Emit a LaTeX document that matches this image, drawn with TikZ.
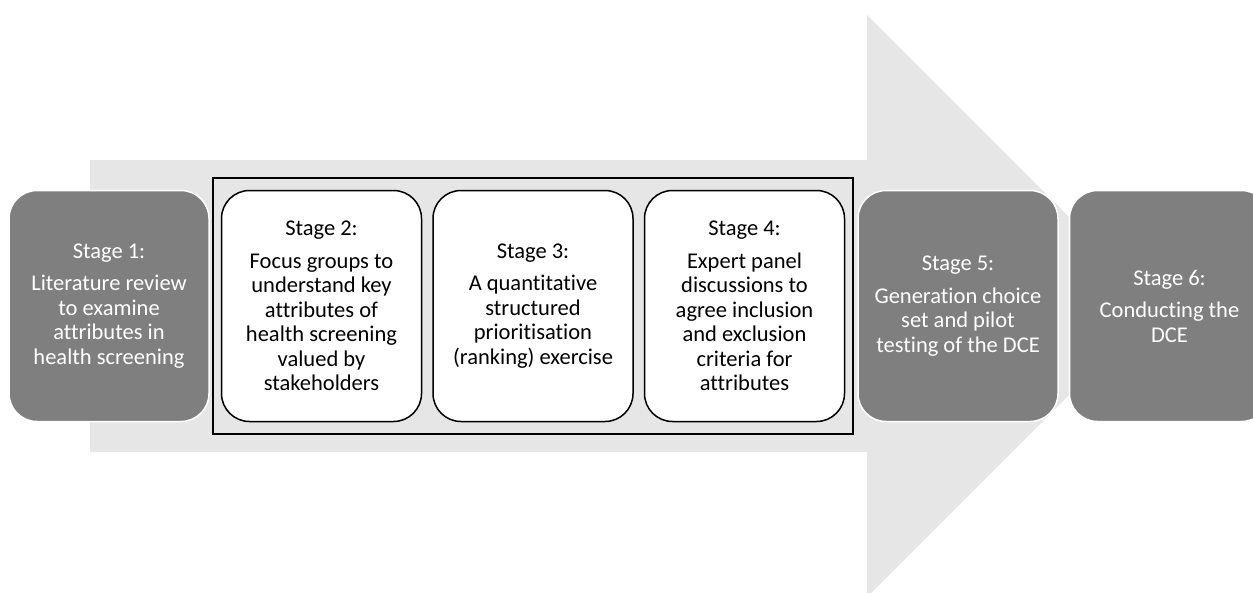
\documentclass[tikz,border=0pt]{standalone}
\usepackage{fontspec}
\setmainfont{Carlito}[Ligatures=NoCommon]
\usetikzlibrary{positioning,fit}

\definecolor{arrowgrey}{HTML}{E6E6E6}
\definecolor{stagegrey}{HTML}{7F7F7F}

\tikzset{
  stagebox/.style={rounded corners=28pt, minimum width=200pt, minimum height=231pt,
    align=center, inner sep=0pt, font=\fontsize{22.5}{24.5}\selectfont},
  darkstage/.style={stagebox, fill=stagegrey, draw=white, line width=1.5pt, text=white},
  lightstage/.style={stagebox, fill=white, draw=black, line width=1.5pt},
}

\begin{document}
\begin{tikzpicture}[x=1pt,y=-1pt]
\useasboundingbox (0,0) rectangle (1253,592);
\clip (0,0) rectangle (1253,592);
% big arrow behind everything
\fill[arrowgrey] (90,160) -- (867,160) -- (867,15) -- (1158,306)
  -- (867,597) -- (867,452) -- (90,452) -- cycle;

\node[darkstage] (s1) at (109,306)
  {Stage 1:\\[8pt]Literature review\\to examine\\attributes in\\health screening};
\node[lightstage, right=11pt of s1] (s2)
  {Stage 2:\\[8pt]Focus groups to\\understand key\\attributes of\\health screening\\valued by\\stakeholders};
\node[lightstage, right=10pt of s2] (s3)
  {Stage 3:\\[8pt]A quantitative\\structured\\prioritisation\\(ranking) exercise};
\node[lightstage, right=10pt of s3] (s4)
  {Stage 4:\\[8pt]Expert panel\\discussions to\\agree inclusion\\and exclusion\\criteria for\\attributes};
\node[darkstage, right=12pt of s4] (s5)
  {Stage 5:\\[8pt]Generation choice\\set and pilot\\testing of the DCE};
\node[darkstage, right=10pt of s5] (s6)
  {Stage 6:\\[8pt]Conducting the\\DCE};

% frame round stages 2 to 4
\node[draw, line width=2pt, inner xsep=8pt, inner ysep=12pt, fit=(s2)(s4)] (mid) {};
\end{tikzpicture}
\end{document}
